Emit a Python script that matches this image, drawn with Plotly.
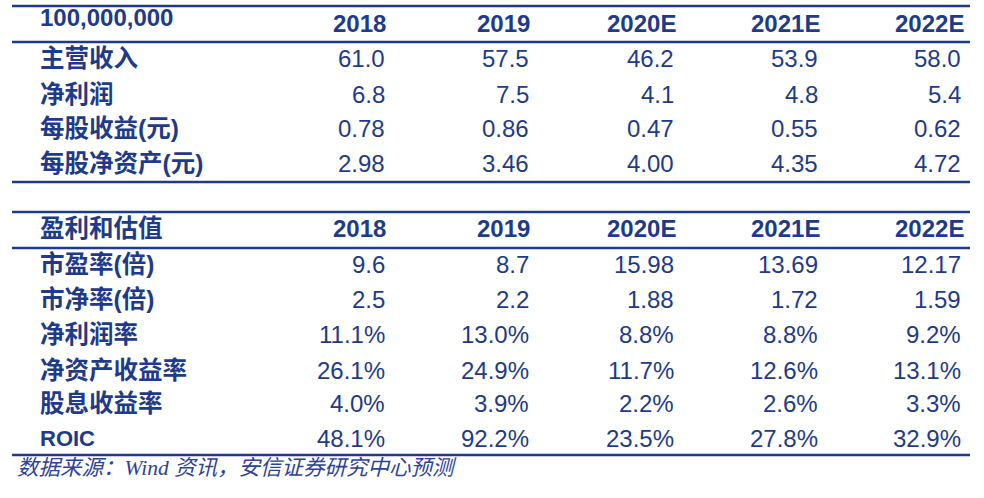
import plotly.graph_objects as go

# --- data ---
years = ["2018", "2019", "2020E", "2021E", "2022E"]

unit_label = "100,000,000"
t1_labels = ["主营收入", "净利润", "每股收益(元)", "每股净资产(元)"]
revenue = ["61.0", "57.5", "46.2", "53.9", "58.0"]
net_profit = ["6.8", "7.5", "4.1", "4.8", "5.4"]
eps = ["0.78", "0.86", "0.47", "0.55", "0.62"]
bvps = ["2.98", "3.46", "4.00", "4.35", "4.72"]

t2_title = "盈利和估值"
t2_labels = ["市盈率(倍)", "市净率(倍)", "净利润率", "净资产收益率", "股息收益率", "ROIC"]
pe = ["9.6", "8.7", "15.98", "13.69", "12.17"]
pb = ["2.5", "2.2", "1.88", "1.72", "1.59"]
net_margin = ["11.1%", "13.0%", "8.8%", "8.8%", "9.2%"]
roe = ["26.1%", "24.9%", "11.7%", "12.6%", "13.1%"]
div_yield = ["4.0%", "3.9%", "2.2%", "2.6%", "3.3%"]
roic = ["48.1%", "92.2%", "23.5%", "27.8%", "32.9%"]

source = "数据来源：Wind 资讯，安信证券研究中心预测"

# --- layout constants (pixel-like coordinates) ---
NAVY = "#1e3a8a"
LATIN = "Liberation Sans, Arial, Noto Sans CJK SC"
LABEL_X = 38
HEAD_X = [388, 532, 678, 822, 966]
VAL_X = [387, 531, 676, 820, 963]
t1_rows_y = [58, 94.5, 128, 163.5]
t2_rows_y = [264, 299.5, 334.5, 370, 403.5, 438]
rules_y = [6, 42, 182, 212, 248, 455]

fig = go.Figure()
ann = []


def cell(x, y, text, anchor="right", size=24, bold=False, family=LATIN, color=NAVY):
    txt = f"<b>{text}</b>" if bold else text
    ann.append(dict(x=x, y=y, xref="x", yref="y", text=txt, showarrow=False,
                    xanchor=anchor, yanchor="middle",
                    font=dict(family=family, size=size, color=color)))


# header of table 1
cell(LABEL_X, 17, unit_label, anchor="left", bold=True)
for x, yr in zip(HEAD_X, years):
    cell(x, 23, yr, bold=True)

for y, lab, vals in zip(t1_rows_y, t1_labels, [revenue, net_profit, eps, bvps]):
    cell(LABEL_X, y, lab, anchor="left", size=24.5, bold=True)
    for x, v in zip(VAL_X, vals):
        cell(x, y, v)

# header of table 2
cell(LABEL_X, 228, t2_title, anchor="left", size=24.5, bold=True)
for x, yr in zip(HEAD_X, years):
    cell(x, 228, yr, bold=True)

t2_vals = [pe, pb, net_margin, roe, div_yield, roic]
for y, lab, vals in zip(t2_rows_y, t2_labels, t2_vals):
    cell(LABEL_X, y, lab, anchor="left", size=22 if lab == "ROIC" else 24.5, bold=True)
    for x, v in zip(VAL_X, vals):
        cell(x, y, v)

# source note
ann.append(dict(x=15, y=468, xref="x", yref="y", text=f"<i>{source}</i>", showarrow=False,
                xanchor="left", yanchor="middle",
                font=dict(family="Liberation Serif, Noto Sans CJK SC", size=21.5, color="#2e4296")))

# horizontal rules
shapes = [dict(type="line", xref="x", yref="y", x0=12, x1=970, y0=y, y1=y,
               line=dict(color=NAVY, width=2.5)) for y in rules_y]

fig.update_layout(
    width=984, height=498,
    margin=dict(l=0, r=0, t=0, b=0),
    paper_bgcolor="white", plot_bgcolor="white",
    xaxis=dict(range=[0, 984], visible=False, fixedrange=True),
    yaxis=dict(range=[498, 0], visible=False, fixedrange=True),
    annotations=ann, shapes=shapes, showlegend=False,
)

fig.write_html("out.html", config={"displayModeBar": False},
               post_script="document.body.style.margin='0';")
